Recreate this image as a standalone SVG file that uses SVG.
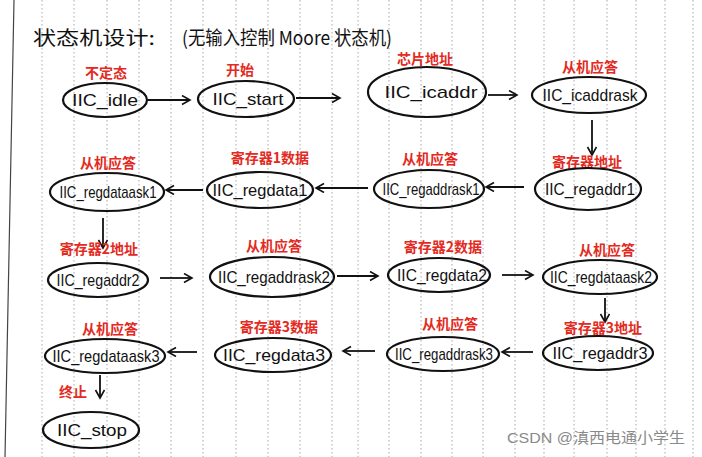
<svg xmlns="http://www.w3.org/2000/svg" width="702" height="457" viewBox="0 0 702 457">
<defs>
<marker id="ah" markerUnits="userSpaceOnUse" markerWidth="12" markerHeight="12" refX="9" refY="5" orient="auto">
<path d="M1,0.5 L9,5 L1,9.5" fill="none" stroke="#111" stroke-width="1.6"/>
</marker>
<style>
.grid{stroke:#a8a8a8;stroke-width:1;stroke-dasharray:1.5 2.5;fill:none}
.node ellipse{fill:none;stroke:#111;stroke-width:2.2}
.node .n{font-family:"Liberation Sans","DejaVu Sans",sans-serif;font-size:17px;fill:#111;text-anchor:middle;dominant-baseline:central}
.node .r{font-family:"Noto Sans CJK SC",sans-serif;font-size:14px;font-weight:bold;fill:#e32a22;text-anchor:middle;dominant-baseline:central}
.edge{stroke:#111;stroke-width:1.8;fill:none;marker-end:url(#ah)}
.title{font-family:"Noto Sans CJK SC",sans-serif;font-size:19px;fill:#111;dominant-baseline:central}
.wm{font-family:"Liberation Sans","Noto Sans CJK SC",sans-serif;font-size:15px;fill:#8a8a8a}
</style>
</defs>
<rect width="702" height="457" fill="#fff"/>
<g id="paper">
<path class="grid" d="M42,0V457M74,0V457M107,0V457M139,0V457M171,0V457M203,0V457M236,0V457M268,0V457M300,0V457M332,0V457M358,0V457M389,0V457M421,0V457M452,0V457M483,0V457M515,0V457M544,0V457M574,0V457M607,0V457M636,0V457M665,0V457M693,0V457"/>
<path d="M14,0 L5,457" stroke="#444" stroke-width="1.2" fill="none"/>
</g>
<g id="title">
<text class="title" x="33" y="36" textLength="122" lengthAdjust="spacingAndGlyphs">状态机设计:</text>
<text class="title" x="182" y="36" textLength="210" lengthAdjust="spacingAndGlyphs">(无输入控制 Moore 状态机)</text>
</g>
<g id="connectors">
<path class="edge" d="M148,100 L190,100"/>
<path class="edge" d="M296,98 L340,98"/>
<path class="edge" d="M488,95 L517,95"/>
<path class="edge" d="M592,120 L592,155"/>
<path class="edge" d="M524,187 L486,187"/>
<path class="edge" d="M368,188 L316,188"/>
<path class="edge" d="M203,190 L166,190"/>
<path class="edge" d="M103,218 L103,248"/>
<path class="edge" d="M160,278 L192,278"/>
<path class="edge" d="M337,276 L378,276"/>
<path class="edge" d="M502,275 L533,275"/>
<path class="edge" d="M605,298 L605,322"/>
<path class="edge" d="M533,352 L502,352"/>
<path class="edge" d="M375,351 L343,351"/>
<path class="edge" d="M197,352 L168,352"/>
<path class="edge" d="M100,375 L100,398"/>
</g>
<g id="IIC_idle" class="node">
<text class="r" x="106" y="72">不定态</text>
<ellipse cx="105" cy="100" rx="42" ry="17"/>
<text class="n" x="105" y="100" textLength="66" lengthAdjust="spacingAndGlyphs">IIC_idle</text>
</g>
<g id="IIC_start" class="node">
<text class="r" x="240" y="69">开始</text>
<ellipse cx="246" cy="99" rx="48" ry="18"/>
<text class="n" x="248" y="99" textLength="71" lengthAdjust="spacingAndGlyphs">IIC_start</text>
</g>
<g id="IIC_icaddr" class="node">
<text class="r" x="425" y="58">芯片地址</text>
<ellipse cx="427" cy="92" rx="59" ry="25"/>
<text class="n" x="431" y="92" textLength="93" lengthAdjust="spacingAndGlyphs">IIC_icaddr</text>
</g>
<g id="IIC_icaddrask" class="node">
<text class="r" x="590" y="66">从机应答</text>
<ellipse cx="589" cy="95" rx="57" ry="18"/>
<text class="n" x="590" y="95" textLength="95" lengthAdjust="spacingAndGlyphs">IIC_icaddrask</text>
</g>
<g id="IIC_regaddr1" class="node">
<text class="r" x="587" y="161">寄存器地址</text>
<ellipse cx="588" cy="189" rx="53" ry="21"/>
<text class="n" x="590" y="189" textLength="90" lengthAdjust="spacingAndGlyphs">IIC_regaddr1</text>
</g>
<g id="IIC_regaddrask1" class="node">
<text class="r" x="430" y="158">从机应答</text>
<ellipse cx="429" cy="189" rx="55" ry="19"/>
<text class="n" x="431" y="189" textLength="97" lengthAdjust="spacingAndGlyphs">IIC_regaddrask1</text>
</g>
<g id="IIC_regdata1" class="node">
<text class="r" x="270" y="157">寄存器1数据</text>
<ellipse cx="260" cy="190" rx="53" ry="18"/>
<text class="n" x="260" y="190" textLength="95" lengthAdjust="spacingAndGlyphs">IIC_regdata1</text>
</g>
<g id="IIC_regdataask1" class="node">
<text class="r" x="108" y="162">从机应答</text>
<ellipse cx="107" cy="192" rx="57" ry="19"/>
<text class="n" x="108" y="192" textLength="97" lengthAdjust="spacingAndGlyphs">IIC_regdataask1</text>
</g>
<g id="IIC_regaddr2" class="node">
<text class="r" x="99" y="248">寄存器2地址</text>
<ellipse cx="98" cy="280" rx="50" ry="17"/>
<text class="n" x="98" y="280" textLength="83" lengthAdjust="spacingAndGlyphs">IIC_regaddr2</text>
</g>
<g id="IIC_regaddrask2" class="node">
<text class="r" x="274" y="245">从机应答</text>
<ellipse cx="272" cy="277" rx="62" ry="20"/>
<text class="n" x="274" y="277" textLength="112" lengthAdjust="spacingAndGlyphs">IIC_regaddrask2</text>
</g>
<g id="IIC_regdata2" class="node">
<text class="r" x="443" y="246">寄存器2数据</text>
<ellipse cx="439" cy="275" rx="51" ry="17"/>
<text class="n" x="442" y="275" textLength="90" lengthAdjust="spacingAndGlyphs">IIC_regdata2</text>
</g>
<g id="IIC_regdataask2" class="node">
<text class="r" x="607" y="249">从机应答</text>
<ellipse cx="600" cy="277" rx="57" ry="17"/>
<text class="n" x="601" y="277" textLength="102" lengthAdjust="spacingAndGlyphs">IIC_regdataask2</text>
</g>
<g id="IIC_regaddr3" class="node">
<text class="r" x="603" y="327">寄存器3地址</text>
<ellipse cx="598" cy="353" rx="55" ry="17"/>
<text class="n" x="600" y="353" textLength="95" lengthAdjust="spacingAndGlyphs">IIC_regaddr3</text>
</g>
<g id="IIC_regaddrask3" class="node">
<text class="r" x="450" y="323">从机应答</text>
<ellipse cx="443" cy="354" rx="56" ry="17"/>
<text class="n" x="444" y="354" textLength="98" lengthAdjust="spacingAndGlyphs">IIC_regaddrask3</text>
</g>
<g id="IIC_regdata3" class="node">
<text class="r" x="279" y="326">寄存器3数据</text>
<ellipse cx="273" cy="355" rx="58" ry="17"/>
<text class="n" x="274" y="355" textLength="102" lengthAdjust="spacingAndGlyphs">IIC_regdata3</text>
</g>
<g id="IIC_regdataask3" class="node">
<text class="r" x="110" y="328">从机应答</text>
<ellipse cx="105" cy="356" rx="60" ry="17"/>
<text class="n" x="106" y="356" textLength="107" lengthAdjust="spacingAndGlyphs">IIC_regdataask3</text>
</g>
<g id="IIC_stop" class="node">
<text class="r" x="73" y="391">终止</text>
<ellipse cx="91" cy="430" rx="48" ry="18"/>
<text class="n" x="92" y="430" textLength="70" lengthAdjust="spacingAndGlyphs">IIC_stop</text>
</g>
<text class="wm" x="507" y="443" textLength="178" lengthAdjust="spacingAndGlyphs">CSDN @滇西电通小学生</text>
</svg>
